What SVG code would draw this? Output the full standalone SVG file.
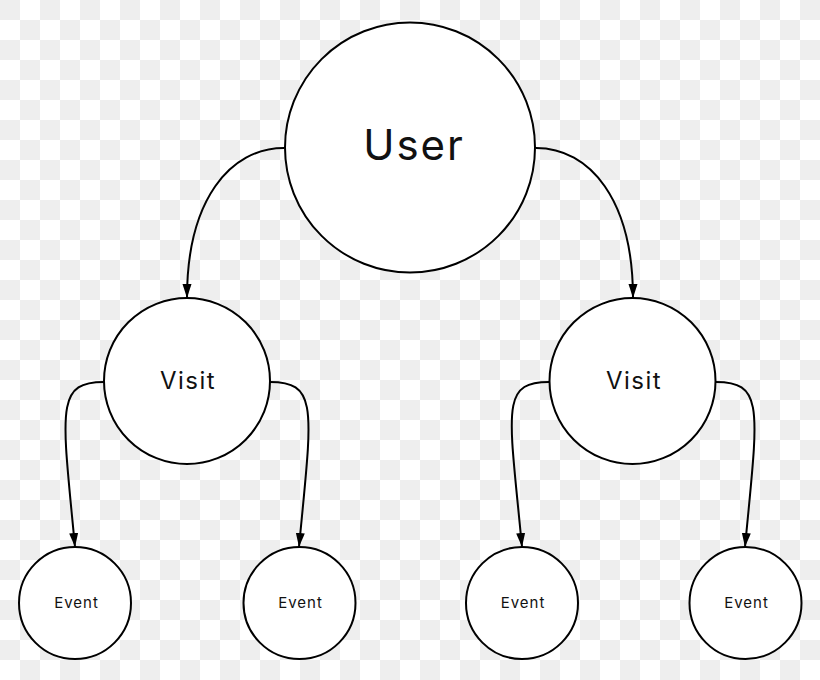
<svg xmlns="http://www.w3.org/2000/svg" width="820" height="680" viewBox="0 0 820 680">
  <style>
    .node { fill: #ffffff; stroke: #000000; stroke-width: 2; }
    .edge { fill: none; stroke: #000000; stroke-width: 2; }
    .label { font-family: Inter, "Liberation Sans", sans-serif; fill: #111111; text-anchor: middle; }
  </style>
  <defs>
    <pattern id="checker" x="0" y="0" width="40" height="40" patternUnits="userSpaceOnUse">
      <rect width="40" height="40" fill="#ffffff"/>
      <rect x="0" y="0" width="20" height="20" fill="#eeeeee"/>
      <rect x="20" y="20" width="20" height="20" fill="#eeeeee"/>
    </pattern>
    <marker id="arrow" markerUnits="userSpaceOnUse" markerWidth="14" markerHeight="10" refX="14" refY="5" orient="auto">
      <path d="M0,0.5 L14,5 L0,9.5 z" fill="#000000"/>
    </marker>
  </defs>
  <rect width="820" height="680" fill="url(#checker)"/>
  <g id="connectors">
    <path class="edge" marker-end="url(#arrow)" d="M284,148 C230,148 187,200 187,298"/>
    <path class="edge" marker-end="url(#arrow)" d="M536,148 C590,148 633,200 633,298"/>
    <path class="edge" marker-end="url(#arrow)" d="M104,382 C55,382 62,410 75,547"/>
    <path class="edge" marker-end="url(#arrow)" d="M270,382 C319,382 312,410 299,547"/>
    <path class="edge" marker-end="url(#arrow)" d="M549,382 C500,382 509,410 522,547"/>
    <path class="edge" marker-end="url(#arrow)" d="M716,382 C765,382 758,410 745,547"/>
  </g>
  <g id="user">
    <circle class="node" cx="410" cy="147.5" r="125"/>
    <text class="label" x="414" y="160" font-size="42" letter-spacing="2">User</text>
  </g>
  <g id="visit-left">
    <circle class="node" cx="187" cy="381" r="83"/>
    <text class="label" x="188" y="389" font-size="24" letter-spacing="1.5">Visit</text>
  </g>
  <g id="visit-right">
    <circle class="node" cx="632.5" cy="381" r="83"/>
    <text class="label" x="634" y="389" font-size="24" letter-spacing="1.5">Visit</text>
  </g>
  <g id="event-1">
    <circle class="node" cx="75" cy="603" r="56"/>
    <text class="label" x="76.5" y="608" font-size="15" letter-spacing="1">Event</text>
  </g>
  <g id="event-2">
    <circle class="node" cx="299.5" cy="603" r="56"/>
    <text class="label" x="300.5" y="608" font-size="15" letter-spacing="1">Event</text>
  </g>
  <g id="event-3">
    <circle class="node" cx="522" cy="603" r="56"/>
    <text class="label" x="523" y="608" font-size="15" letter-spacing="1">Event</text>
  </g>
  <g id="event-4">
    <circle class="node" cx="745.5" cy="603" r="56"/>
    <text class="label" x="746.5" y="608" font-size="15" letter-spacing="1">Event</text>
  </g>
</svg>
